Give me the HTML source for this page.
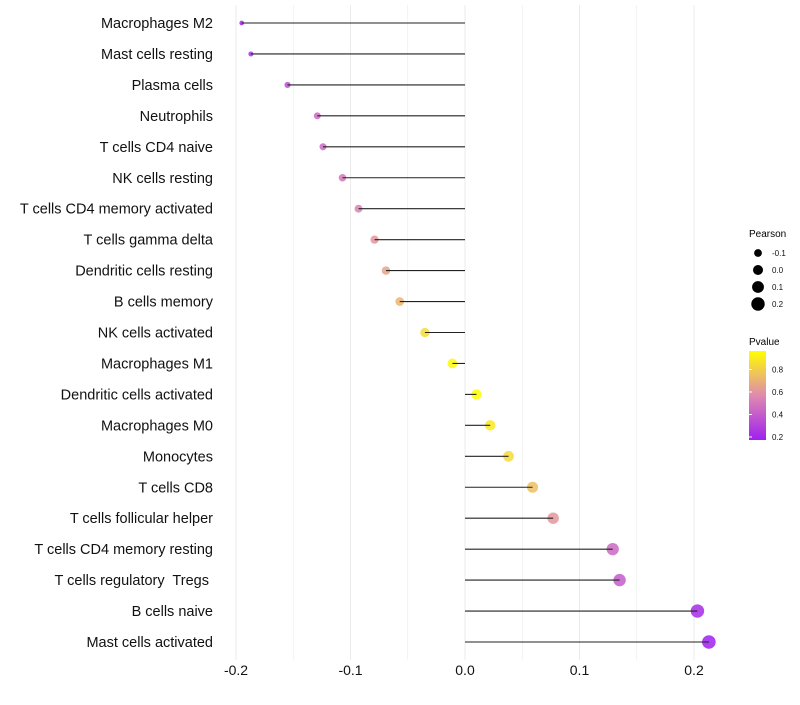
<!DOCTYPE html>
<html><head><meta charset="utf-8"><style>
body{margin:0;background:#fff;font-family:"Liberation Sans",sans-serif}
text{white-space:pre}
</style></head><body>
<svg id="c" width="800" height="700" xmlns="http://www.w3.org/2000/svg" font-family="Liberation Sans, sans-serif">
<defs><linearGradient id="pg" x1="0" y1="1" x2="0" y2="0">
<stop offset="0" stop-color="#A020F0"/><stop offset="0.5" stop-color="#DF8AAE"/><stop offset="1" stop-color="#FFFF00"/></linearGradient></defs>
<g id="grid"></g><g id="pts"></g><g id="marks"></g><g id="labels"></g><g id="xaxis"></g>
<g id="legend">
<text x="749" y="237" font-size="10" fill="#000">Pearson</text>
<text x="749" y="345" font-size="10" fill="#000">Pvalue</text>
<rect x="749" y="351" width="17" height="89" fill="url(#pg)"/>
</g>
</svg>
<script>
const categories=["Macrophages M2","Mast cells resting","Plasma cells","Neutrophils","T cells CD4 naive","NK cells resting","T cells CD4 memory activated","T cells gamma delta","Dendritic cells resting","B cells memory","NK cells activated","Macrophages M1","Dendritic cells activated","Macrophages M0","Monocytes","T cells CD8","T cells follicular helper","T cells CD4 memory resting","T cells regulatory  Tregs ","B cells naive","Mast cells activated"];
const pearson=[-0.195,-0.187,-0.155,-0.129,-0.124,-0.107,-0.093,-0.079,-0.069,-0.057,-0.035,-0.011,0.010,0.022,0.038,0.059,0.077,0.129,0.135,0.203,0.213];
const pvalue=[0.2,0.25,0.35,0.45,0.45,0.5,0.55,0.62,0.66,0.72,0.85,0.95,0.98,0.9,0.85,0.75,0.62,0.45,0.4,0.22,0.18];
const xTicks=[-0.2,-0.1,0.0,0.1,0.2];
const xTickLabels=["-0.2","-0.1","0.0","0.1","0.2"];
const legendVals=[-0.1,0.0,0.1,0.2];
const legendLabels=["-0.1","0.0","0.1","0.2"];
const pTicks=[0.8,0.6,0.4,0.2];
const NS="http://www.w3.org/2000/svg";
const xS=v=>465+v*1145;
const yS=i=>23+i*30.95;
const rS=v=>Math.sqrt(Math.max(2,25+100*v));
const pY=p=>437-(p-0.2)*112.5;
function lerp(a,b,t){return a.map((x,i)=>Math.round(x+(b[i]-x)*t));}
function col(p){const t=Math.min(1,Math.max(0,(p-0.18)/(0.97-0.18)));const A=[160,32,240],M=[223,138,174],B=[255,255,0];const c=t<0.5?lerp(A,M,t/0.5):lerp(M,B,(t-0.5)/0.5);return `rgb(${c})`;}
function mk(tag,at,par){const e=document.createElementNS(NS,tag);for(const k in at)e.setAttribute(k,at[k]);document.getElementById(par).appendChild(e);return e;}
for(let v=-0.2;v<=0.2001;v+=0.05){const l=mk('line',{x1:xS(v),x2:xS(v),y1:5,y2:660,stroke:'#ebebeb','stroke-width':Math.abs(Math.round(v*20)%2)===0?1:0.6},'grid');

}
xTicks.forEach((v,i)=>{const t=mk('text',{x:xS(v),y:675,'font-size':14,'text-anchor':'middle',fill:'#111'},'xaxis');t.textContent=xTickLabels[i];

});
categories.forEach((c,i)=>{const y=yS(i);
const d=mk('circle',{cx:xS(pearson[i]),cy:y,r:rS(pearson[i]),fill:col(pvalue[i]),'fill-opacity':0.85},'pts');


const l=mk('line',{x1:xS(0),x2:xS(pearson[i]),y1:y,y2:y,stroke:'#222','stroke-width':1.1},'marks');


const t=mk('text',{x:213,y:y+5,'font-size':14.5,'text-anchor':'end',fill:'#111'},'labels');t.textContent=c;

});
legendVals.forEach((v,i)=>{const y=253+i*17;
const d=mk('circle',{cx:758,cy:y,r:rS(v),fill:'#000'},'legend');


const t=mk('text',{x:772,y:y+3,'font-size':8,fill:'#111'},'legend');t.textContent=legendLabels[i];

});
pTicks.forEach(p=>{const y=pY(p);
const t=mk('text',{x:772,y:y+3,'font-size':8,fill:'#111'},'legend');t.textContent=p.toFixed(1);


const k=mk('line',{x1:749,x2:752,y1:y,y2:y,stroke:'#fff'},'legend');

});
</script>
</body></html>
